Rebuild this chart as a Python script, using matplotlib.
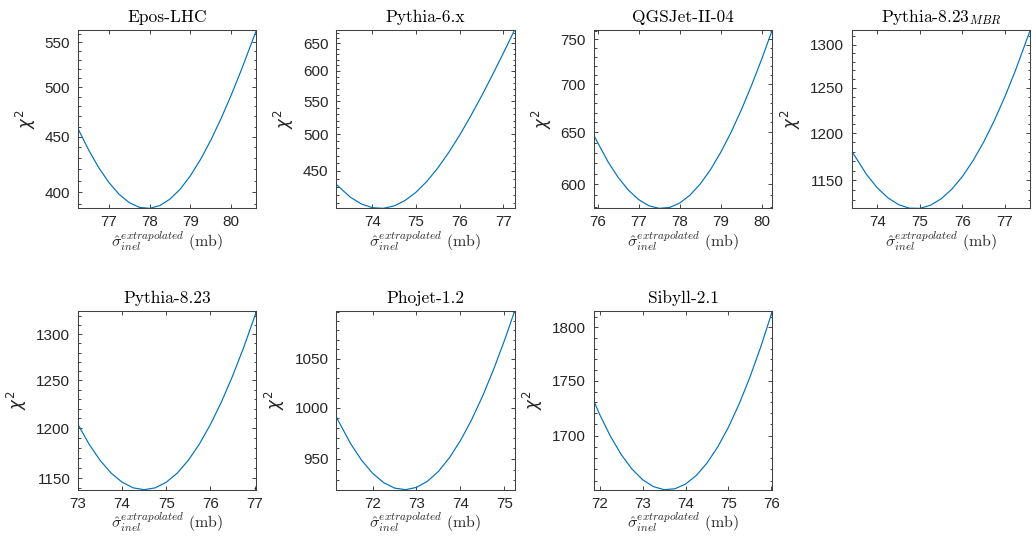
import numpy as np
import matplotlib.pyplot as plt
from matplotlib.ticker import FixedLocator, NullFormatter, NullLocator

# chi^2 scans vs extrapolated inelastic cross section
epos_x = [76.24, 76.5, 76.75, 77.0, 77.25, 77.5, 77.75, 78.0, 78.25, 78.5,
          78.75, 79.0, 79.25, 79.5, 79.75, 80.0, 80.25, 80.62]
epos_chi2 = [458.1, 437.9, 421.6, 408.5, 398.4, 391.4, 387.5, 386.7, 389.0, 394.4,
             402.8, 414.4, 429.1, 446.8, 467.7, 491.6, 518.7, 564.4]

py6_x = [73.17, 73.5, 73.75, 74.0, 74.25, 74.5, 74.75, 75.0, 75.25, 75.5,
         75.75, 76.0, 76.25, 76.5, 76.75, 77.0, 77.26]
py6_chi2 = [432.9, 416.9, 409.0, 404.6, 403.8, 406.6, 413.0, 422.9, 436.4, 453.5,
            474.2, 498.4, 526.2, 557.6, 592.6, 631.1, 675.0]

qgs_x = [75.905, 76.25, 76.5, 76.75, 77.0, 77.25, 77.5, 77.75, 78.0, 78.25,
         78.5, 78.75, 79.0, 79.25, 79.5, 79.75, 80.0, 80.25]
qgs_chi2 = [647.3, 621.5, 606.6, 594.8, 586.2, 580.7, 578.4, 579.2, 583.2, 590.3,
            600.6, 614.0, 630.6, 650.3, 673.1, 699.2, 728.3, 760.7]

mbr_x = [73.40, 73.75, 74.0, 74.25, 74.5, 74.75, 75.0, 75.25, 75.5, 75.75,
         76.0, 76.25, 76.5, 76.75, 77.0, 77.25, 77.59]
mbr_chi2 = [1180.7, 1156.0, 1142.3, 1132.0, 1125.1, 1121.5, 1121.3, 1124.5, 1131.0, 1140.9,
            1154.1, 1170.8, 1190.7, 1214.1, 1240.8, 1270.8, 1317.1]

py8_x = [73.0, 73.25, 73.5, 73.75, 74.0, 74.25, 74.5, 74.75, 75.0, 75.25,
         75.5, 75.75, 76.0, 76.25, 76.5, 76.75, 77.04]
py8_chi2 = [1203.9, 1183.9, 1167.6, 1154.9, 1145.9, 1140.4, 1138.6, 1140.4, 1145.9, 1154.9,
            1167.6, 1183.9, 1203.9, 1227.4, 1254.6, 1285.4, 1325.7]

phojet_x = [71.17, 71.5, 71.75, 72.0, 72.25, 72.5, 72.75, 73.0, 73.25, 73.5,
            73.75, 74.0, 74.25, 74.5, 74.75, 75.0, 75.23]
phojet_chi2 = [991.1, 964.7, 948.9, 936.6, 927.9, 922.8, 921.3, 923.4, 929.1, 938.3,
               951.2, 967.6, 987.6, 1011.2, 1038.4, 1069.2, 1100.7]

sibyll_x = [71.86, 72.0, 72.25, 72.5, 72.75, 73.0, 73.25, 73.5, 73.75, 74.0,
            74.25, 74.5, 74.75, 75.0, 75.25, 75.5, 75.75, 76.02]
sibyll_chi2 = [1731.5, 1719.0, 1699.4, 1683.1, 1670.3, 1660.8, 1654.8, 1652.1, 1652.9, 1657.0,
               1664.6, 1675.5, 1689.9, 1707.6, 1728.8, 1753.3, 1781.3, 1815.3]

titles = ['Epos-LHC', 'Pythia-6.x', 'QGSJet-II-04', 'Pythia-8.23$_{MBR}$',
          'Pythia-8.23', 'Phojet-1.2', 'Sibyll-2.1']
xs = [epos_x, py6_x, qgs_x, mbr_x, py8_x, phojet_x, sibyll_x]
ys = [epos_chi2, py6_chi2, qgs_chi2, mbr_chi2, py8_chi2, phojet_chi2, sibyll_chi2]

xticks = [[77, 78, 79, 80], [74, 75, 76, 77], [76, 77, 78, 79, 80], [74, 75, 76, 77],
          [73, 74, 75, 76, 77], [72, 73, 74, 75], [72, 73, 74, 75, 76]]
yticks = [[400, 450, 500, 550], [450, 500, 550, 600, 650], [600, 650, 700, 750],
          [1150, 1200, 1250, 1300], [1150, 1200, 1250, 1300], [950, 1000, 1050],
          [1700, 1750, 1800]]

line_color = '#0072BD'
text_color = '#262626'

fig = plt.figure(figsize=(10.32, 5.37), dpi=100)

lefts = [0.0755, 0.3256, 0.5753, 0.8253]
bottoms = [0.612, 0.0881]
w, h = 0.173, 0.332

for i in range(7):
    row, col = divmod(i, 4)
    ax = fig.add_axes([lefts[col], bottoms[row], w, h])
    x, y = xs[i], ys[i]
    ax.plot(x, y, color=line_color, lw=0.85)
    ax.set_yscale('log')
    ax.set_xlim(min(x), max(x))
    ax.set_ylim(min(y), max(y))

    ax.set_xticks(xticks[i])
    ax.set_xticklabels([str(t) for t in xticks[i]])
    ax.xaxis.set_minor_locator(NullLocator())
    ax.yaxis.set_major_locator(FixedLocator(yticks[i]))
    ax.set_yticklabels([str(t) for t in yticks[i]])
    lo = int(np.ceil(min(y) / 10.0) * 10)
    ax.yaxis.set_minor_locator(FixedLocator(np.arange(lo, max(y), 10)))
    ax.yaxis.set_minor_formatter(NullFormatter())

    ax.tick_params(which='both', direction='in', top=True, right=True,
                   colors=text_color, labelsize=11, width=0.6)
    ax.tick_params(which='major', length=3.0)
    ax.tick_params(which='minor', length=1.8)
    ax.tick_params(axis='x', pad=5.0)
    ax.tick_params(axis='y', pad=5.5)
    for lab in ax.get_xticklabels() + ax.get_yticklabels():
        lab.set_family('Liberation Sans')
    for s in ax.spines.values():
        s.set_color('#404040')
        s.set_linewidth(0.75)

    ax.set_title(titles[i], fontsize=12.5, family='cmr10', math_fontfamily='cm',
                 color='black', pad=6.0)
    ax.set_xlabel(r'$\hat{\sigma}_{inel}^{extrapolated}\ \mathrm{(mb)}$',
                  fontsize=11.5, math_fontfamily='cm', color=text_color, labelpad=0.5)
    ax.set_ylabel(r'$\chi^2$', fontsize=12, math_fontfamily='dejavusans',
                  color=text_color, labelpad=5)

plt.savefig('out.png', dpi=100)
